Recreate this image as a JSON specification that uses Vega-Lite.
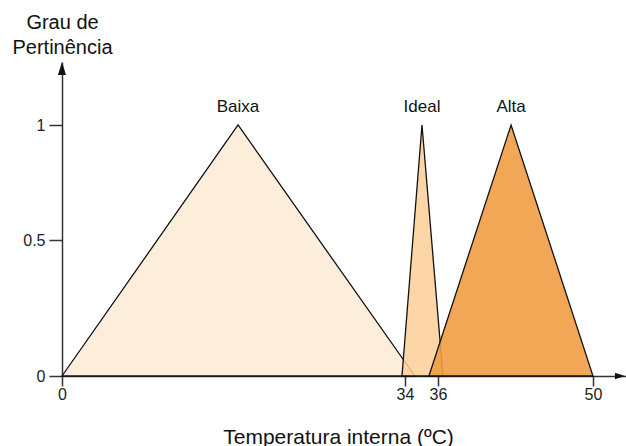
{
  "$schema": "https://vega.github.io/schema/vega-lite/v6.json",
  "width": 564,
  "height": 314,
  "autosize": "none",
  "padding": {"left": 62, "top": 62, "right": 0, "bottom": 70},
  "background": "white",
  "config": {
    "view": {"stroke": null},
    "font": "Liberation Sans"
  },
  "datasets": {
    "tri": [
      {"conjunto": "Baixa", "temp": 0, "grau": 0},
      {"conjunto": "Baixa", "temp": 17.45, "grau": 1},
      {"conjunto": "Baixa", "temp": 34.6, "grau": 0},
      {"conjunto": "Ideal", "temp": 33.7, "grau": 0},
      {"conjunto": "Ideal", "temp": 35.03, "grau": 1},
      {"conjunto": "Ideal", "temp": 36.45, "grau": 0},
      {"conjunto": "Alta", "temp": 35.45, "grau": 0},
      {"conjunto": "Alta", "temp": 42.6, "grau": 1},
      {"conjunto": "Alta", "temp": 50, "grau": 0}
    ],
    "labels": [
      {"conjunto": "Baixa", "temp": 17.45, "grau": 1},
      {"conjunto": "Ideal", "temp": 35.03, "grau": 1},
      {"conjunto": "Alta", "temp": 42.6, "grau": 1}
    ],
    "arrows": [
      {"eixo": "x", "temp": 52.45, "grau": 0},
      {"eixo": "y", "temp": 0, "grau": 1.246}
    ]
  },
  "encoding": {
    "x": {
      "field": "temp",
      "type": "quantitative",
      "scale": {"domain": [0, 34, 36, 50, 53], "range": [0, 343, 376, 531, 564], "clamp": false},
      "axis": {
        "values": [0, 34, 36, 50],
        "title": "Temperatura interna (ºC)",
        "grid": false,
        "domainColor": "#333333",
        "domainWidth": 1.5,
        "tickColor": "#333333",
        "tickWidth": 1.5,
        "tickSize": 10,
        "labelPadding": 0,
        "labelFontSize": 16,
        "labelColor": "#222222",
        "labelFlush": false,
        "titleFontSize": 21,
        "titleFontWeight": "normal",
        "titleColor": "#111111",
        "titleX": 276,
        "titleY": 67,
        "titleBaseline": "alphabetic",
        "titleAlign": "center",
        "titleAnchor": null
      }
    },
    "y": {
      "field": "grau",
      "type": "quantitative",
      "scale": {"domain": [0, 0.5, 1, 1.274], "range": [314, 178, 63, 0], "nice": false, "zero": false},
      "axis": {
        "values": [0, 0.5, 1],
        "format": "~g",
        "title": ["Grau de", "Pertinência"],
        "grid": false,
        "domainColor": "#333333",
        "domainWidth": 1.5,
        "tickColor": "#333333",
        "tickWidth": 1.5,
        "tickSize": 13,
        "labelPadding": 4,
        "labelFontSize": 16,
        "labelColor": "#222222",
        "labelFlush": false,
        "titleFontSize": 20,
        "titleFontWeight": "normal",
        "titleColor": "#111111",
        "titleAngle": 0,
        "titleX": 0,
        "titleY": -34,
        "titleAlign": "center",
        "titleBaseline": "alphabetic",
        "titleLineHeight": 25,
        "titleAnchor": null
      }
    }
  },
  "layer": [
    {
      "data": {"name": "tri"},
      "transform": [{"filter": "datum.conjunto === 'Baixa'"}],
      "mark": {"type": "area", "color": "#fdeedc", "fillOpacity": 1, "stroke": "#111111", "strokeWidth": 1.3, "strokeJoin": "miter"},
      "encoding": {"y": {"field": "grau", "type": "quantitative", "stack": null}}
    },
    {
      "data": {"name": "tri"},
      "transform": [{"filter": "datum.conjunto === 'Ideal'"}],
      "mark": {"type": "area", "color": "#fdcf98", "fillOpacity": 0.85, "stroke": "#111111", "strokeWidth": 1.3, "strokeJoin": "miter"},
      "encoding": {"y": {"field": "grau", "type": "quantitative", "stack": null}}
    },
    {
      "data": {"name": "tri"},
      "transform": [{"filter": "datum.conjunto === 'Alta'"}],
      "mark": {"type": "area", "color": "#ef9d42", "fillOpacity": 0.9, "stroke": "#111111", "strokeWidth": 1.3, "strokeJoin": "miter"},
      "encoding": {"y": {"field": "grau", "type": "quantitative", "stack": null}}
    },
    {
      "data": {"name": "labels"},
      "mark": {"type": "text", "baseline": "alphabetic", "align": "center", "dy": -13, "fontSize": 17, "color": "#111111"},
      "encoding": {"text": {"field": "conjunto"}}
    },
    {
      "data": {"name": "arrows"},
      "transform": [{"filter": "datum.eixo === 'x'"}],
      "mark": {"type": "point", "filled": true, "color": "#111111", "opacity": 1, "size": 100, "shape": "M1,0L-1,-0.65L-1,0.65Z"}
    },
    {
      "data": {"name": "arrows"},
      "transform": [{"filter": "datum.eixo === 'y'"}],
      "mark": {"type": "point", "filled": true, "color": "#111111", "opacity": 1, "size": 169, "shape": "M0,-1L0.62,1L-0.62,1Z"}
    }
  ]
}
